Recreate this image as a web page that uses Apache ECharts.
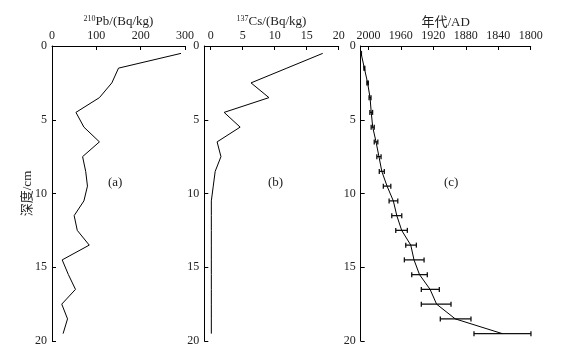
<!DOCTYPE html>
<html>
<head>
<meta charset="utf-8">
<script src="https://cdn.jsdelivr.net/npm/echarts@6/dist/echarts.min.js"></script>
<style>html,body{margin:0;padding:0;background:#fff}#c{width:577px;height:349px}</style>
</head>
<body>
<div id="c"></div>
<script>
// depth (cm) of each sample
const depths = [0.5,1.5,2.5,3.5,4.5,5.5,6.5,7.5,8.5,9.5,10.5,11.5,12.5,13.5,14.5,15.5,16.5,17.5,18.5,19.5];
// (a) 210Pb activity, Bq/kg
const pb210 = [291,150,135,107,54,72,107,69,76,80,72,50,57,84,23,37,53,22,35,25];
// (b) 137Cs activity, Bq/kg
const cs137 = [17.5,11.9,6.3,9.1,2.1,4.6,1.0,1.6,0.7,0.4,0.1,0.1,0.1,0.1,0.1,0.1,0.1,0.1,0.1,0.1];
// (c) age AD with error bounds
const ageAD = [2009,2005,2001,1998,1996.5,1994.7,1990.6,1987,1983.5,1977,1969.3,1965,1959,1947.8,1943.8,1937,1924,1916,1893,1835];
const ageYoung = [2009.4,2005.6,2001.9,1999.2,1998.2,1996.6,1992.8,1989.6,1986.6,1981.6,1974.5,1971.2,1966.3,1954.0,1955.7,1946.6,1934.8,1934.8,1911.4,1869.9];
const ageOld = [2008.6,2004.4,2000.1,1996.8,1994.8,1992.8,1988.4,1984.4,1980.4,1972.4,1963.8,1958.9,1952.0,1940.9,1931.4,1927.4,1912.6,1898.2,1873.6,1799.7];
const depthTicks = [0,5,10,15,20];
const pbTicks = [0,100,200,300];
const csTicks = [0,5,10,15,20];
const ageTicks = [2000,1960,1920,1880,1840,1800];

const FONT = "'Liberation Serif','Noto Sans CJK SC',serif";
const TXT = '#222';

function xAx(gi, min, max, ticks, name, inverse) {
  return {
    type: 'value', gridIndex: gi, position: 'top', min: min, max: max, inverse: !!inverse,
    name: name, nameLocation: 'middle', nameGap: 17, nameMoveOverlap: false,
    nameTextStyle: {color: TXT, fontFamily: FONT, fontSize: 13,
      rich: {sup: {fontSize: 8, fontFamily: FONT, color: TXT, verticalAlign: 'top', padding: [0,0,6,0]},
             n: {fontSize: 13, fontFamily: FONT, color: TXT}}},
    axisLine: {show: true, onZero: false, lineStyle: {color: '#000', width: 1}},
    axisTick: {show: true, inside: true, length: 4, customValues: ticks, lineStyle: {color: '#000'}},
    axisLabel: {color: TXT, fontFamily: FONT, fontSize: 12, margin: 4, customValues: ticks,
      formatter: v => String(v)},
    splitLine: {show: false}
  };
}
function yAx(gi, withName) {
  return {
    type: 'value', gridIndex: gi, inverse: true, min: 0, max: 20, interval: 5,
    name: withName ? '深度/cm' : '', nameLocation: 'middle', nameGap: 18, nameRotate: 90,
    nameMoveOverlap: false,
    nameTextStyle: {color: TXT, fontFamily: FONT, fontSize: 13},
    axisLine: {show: true, onZero: false, lineStyle: {color: '#000', width: 1}},
    axisTick: {show: true, inside: true, length: 4, customValues: depthTicks, lineStyle: {color: '#000'}},
    axisLabel: {color: TXT, fontFamily: FONT, fontSize: 12, margin: 5},
    splitLine: {show: false}
  };
}

const chart = echarts.init(document.getElementById('c'));
chart.setOption({
  animation: false,
  backgroundColor: '#fff',
  grid: [
    {left: 52, top: 46, width: 133, height: 295},
    {left: 204.3, top: 46, width: 134.4, height: 295},
    {left: 360.7, top: 46, width: 170, height: 295}
  ],
  xAxis: [
    xAx(0, 0, 300, pbTicks, '{sup|210}{n|Pb/(Bq/kg)}'),
    xAx(1, -1, 20, csTicks, '{sup|137}{n|Cs/(Bq/kg)}'),
    xAx(2, 1800, 2009.5, ageTicks, '年代/AD', true)
  ],
  yAxis: [yAx(0, true), yAx(1, false), yAx(2, false)],
  graphic: [
    {type: 'text', left: 108, top: 176, style: {text: '(a)', fill: TXT, font: "13px 'Liberation Serif'"}},
    {type: 'text', left: 268, top: 176, style: {text: '(b)', fill: TXT, font: "13px 'Liberation Serif'"}},
    {type: 'text', left: 444, top: 176, style: {text: '(c)', fill: TXT, font: "13px 'Liberation Serif'"}}
  ],
  series: [
    {type: 'line', xAxisIndex: 0, yAxisIndex: 0, showSymbol: false,
     lineStyle: {color: '#000', width: 1}, data: depths.map((d, i) => [pb210[i], d])},
    {type: 'line', xAxisIndex: 1, yAxisIndex: 1, showSymbol: false,
     lineStyle: {color: '#000', width: 1}, data: depths.map((d, i) => [cs137[i], d])},
    {type: 'line', xAxisIndex: 2, yAxisIndex: 2, showSymbol: false,
     lineStyle: {color: '#000', width: 1}, data: depths.map((d, i) => [ageAD[i], d])},
    {type: 'custom', xAxisIndex: 2, yAxisIndex: 2,
     data: depths.map((d, i) => [ageYoung[i], ageOld[i], d]),
     renderItem: function (params, api) {
       const a = api.coord([api.value(0), api.value(2)]);
       const b = api.coord([api.value(1), api.value(2)]);
       const h = 2.5;
       const st = {stroke: '#111', lineWidth: 1.3};
       return {type: 'group', children: [
         {type: 'line', shape: {x1: a[0], y1: a[1], x2: b[0], y2: b[1]}, style: st},
         {type: 'line', shape: {x1: a[0], y1: a[1] - h, x2: a[0], y2: a[1] + h}, style: st},
         {type: 'line', shape: {x1: b[0], y1: b[1] - h, x2: b[0], y2: b[1] + h}, style: st}
       ]};
     }}
  ]
});
</script>
</body>
</html>
